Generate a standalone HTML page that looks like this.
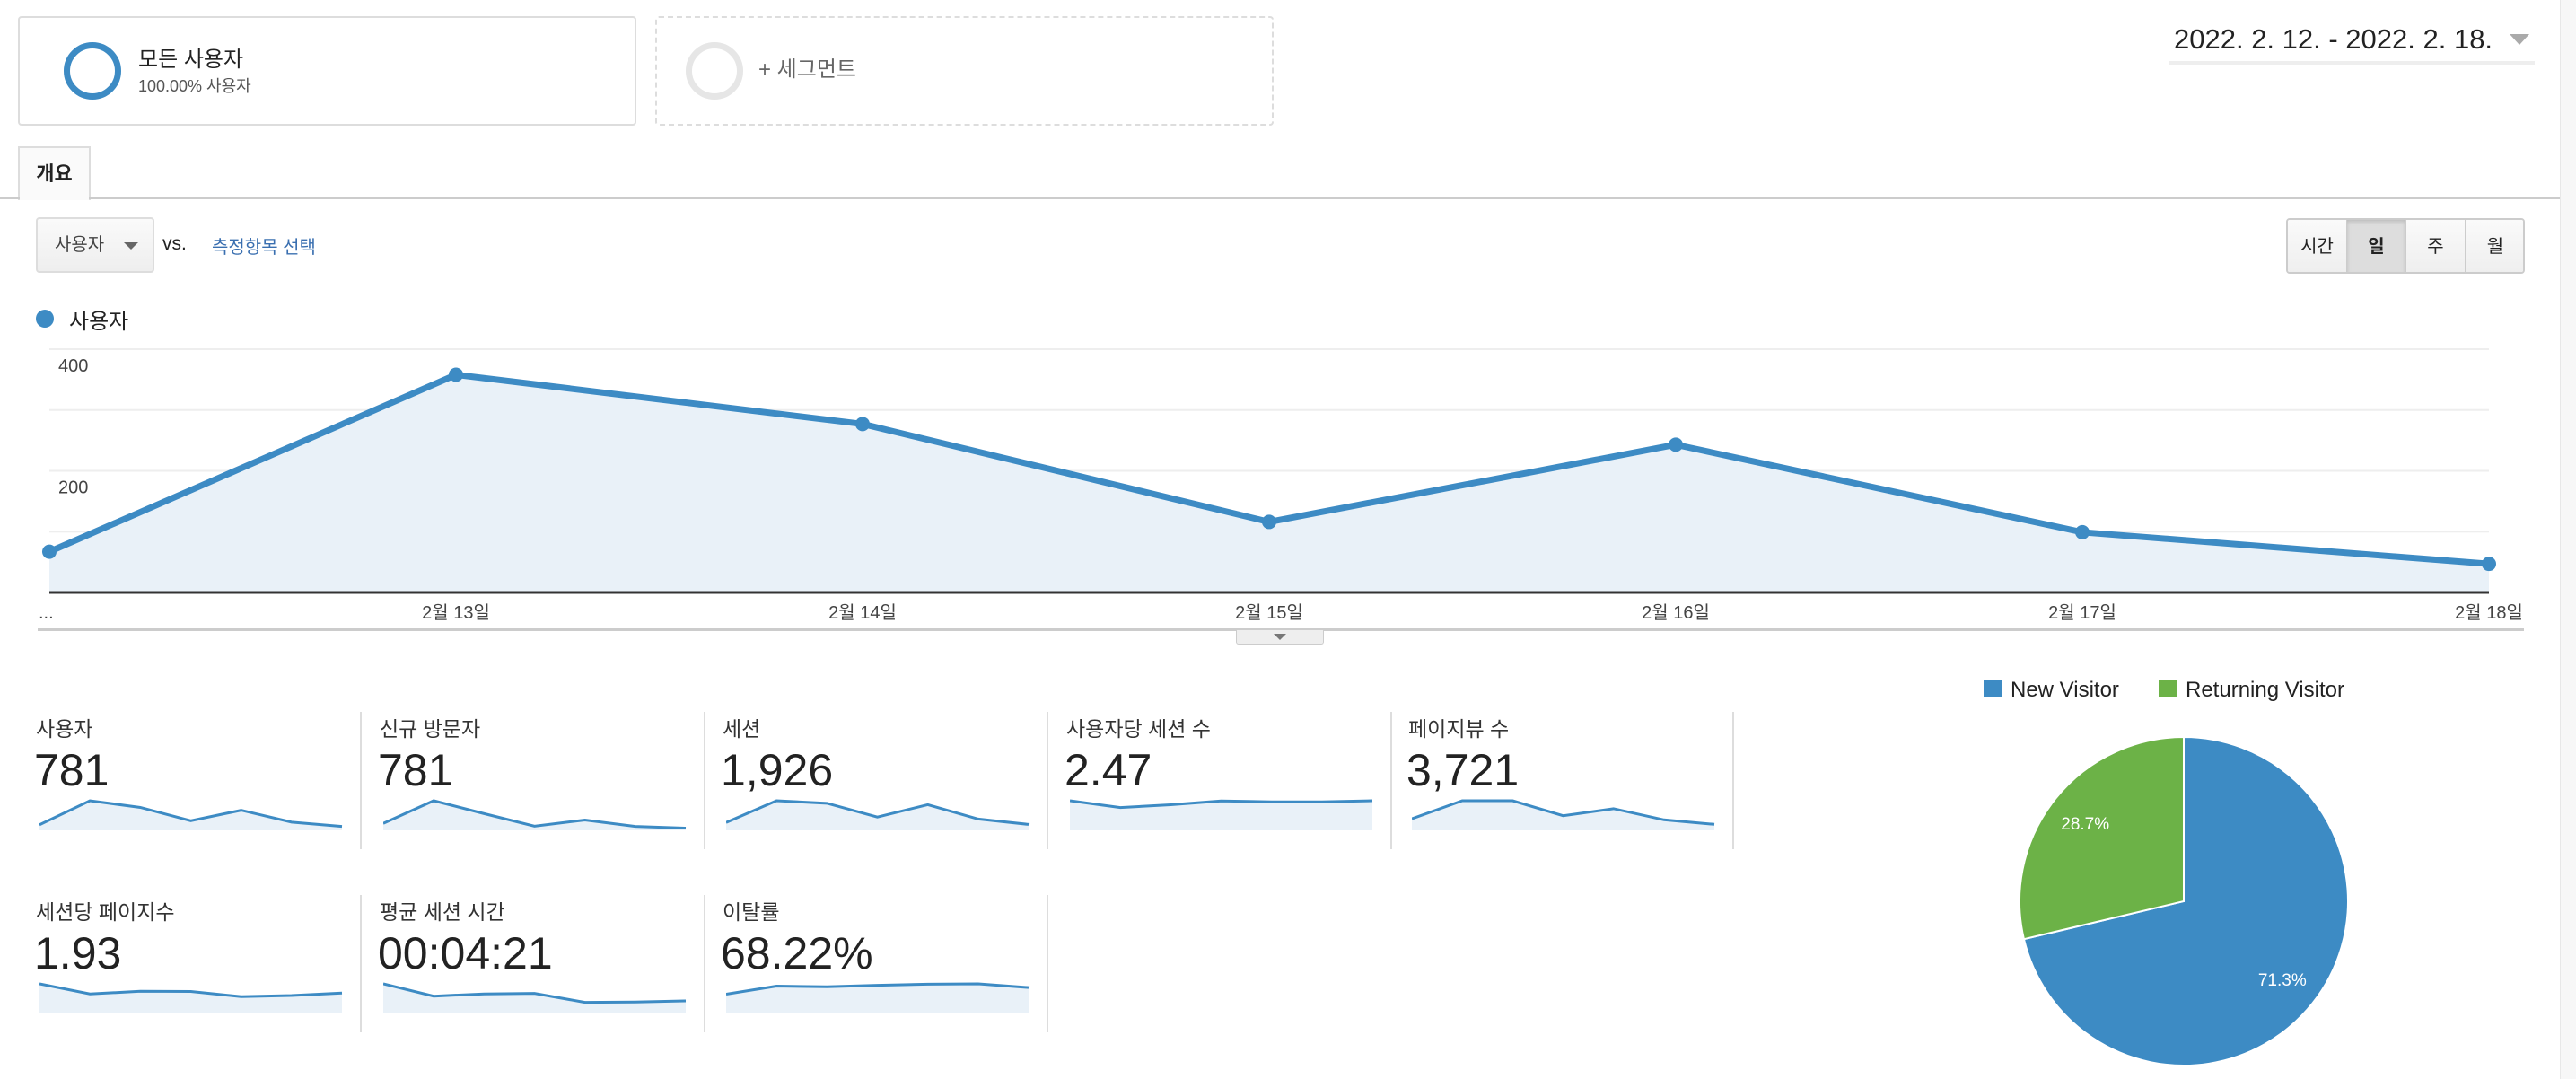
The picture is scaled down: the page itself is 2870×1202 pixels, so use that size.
<!DOCTYPE html>
<html><head><meta charset="utf-8">
<style>
*{box-sizing:border-box;margin:0;padding:0}
body{width:2870px;height:1202px;background:#fff;position:relative;overflow:hidden;font-family:"Liberation Sans","Noto Sans CJK KR",sans-serif;color:#222}
.a{position:absolute;white-space:nowrap}
.seg{position:absolute;border-radius:4px}
.btn{position:absolute;top:0;height:60px;width:66px;text-align:center;line-height:60px;font-size:20px;border-right:1px solid #ccc;background:linear-gradient(#fafafa,#eee)}
.lbl{position:absolute;font-size:23px;color:#333}
.val{position:absolute;font-size:50px;color:#222}
.div{position:absolute;width:2px;background:#ddd}
</style></head><body>
<div class="seg" style="left:20px;top:18px;width:689px;height:122px;border:2px solid #ddd"></div>
<div class="a" style="left:71px;top:47px;width:64px;height:64px;border:7px solid #3d8bc4;border-radius:50%"></div>
<div class="a" style="left:154px;top:46px;font-size:24px;color:#222">모든 사용자</div>
<div class="a" style="left:154px;top:82px;font-size:18px;color:#555">100.00% 사용자</div>
<div class="seg" style="left:730px;top:18px;width:689px;height:122px;border:2px dashed #ddd"></div>
<div class="a" style="left:764px;top:47px;width:64px;height:64px;border:7px solid #e6e6e6;border-radius:50%"></div>
<div class="a" style="left:845px;top:57px;font-size:24px;color:#666">+ 세그먼트</div>
<div class="a" style="left:2422px;top:26px;font-size:31px;color:#222">2022. 2. 12. - 2022. 2. 18.</div>
<div class="a" style="left:2796px;top:38px;width:0;height:0;border-left:11px solid transparent;border-right:11px solid transparent;border-top:12px solid #aaa"></div>
<div class="a" style="left:2417px;top:68px;width:407px;height:4px;background:#eee"></div>
<div class="a" style="left:2852px;top:0;width:18px;height:1202px;background:#f7f7f7;border-left:1px solid #e8e8e8"></div>
<div class="a" style="left:20px;top:163px;width:81px;height:60px;border:2px solid #ddd;border-bottom:none;background:#fafafa;font-size:22px;font-weight:bold;line-height:58px;text-align:center;color:#222">개요</div>
<div class="a" style="left:0;top:220px;width:2852px;height:2px;background:#ccc"></div>
<div class="a" style="left:22px;top:220px;width:77px;height:2px;background:#fafafa"></div>
<div class="a" style="left:40px;top:242px;width:132px;height:62px;border:2px solid #ddd;border-radius:4px;background:linear-gradient(#fafafa,#eee);font-size:20px;color:#444;line-height:58px;padding-left:19px">사용자<span style="position:absolute;left:96px;top:26px;border-left:8px solid transparent;border-right:8px solid transparent;border-top:8px solid #666"></span></div>
<div class="a" style="left:181px;top:260px;font-size:21px;color:#222">vs.</div>
<div class="a" style="left:236px;top:259px;font-size:20px;color:#3a6fb0">측정항목 선택</div>
<div class="a" style="left:2547px;top:243px;width:266px;height:62px;border:2px solid #ccc;border-radius:4px;overflow:hidden">
<div class="btn" style="left:0">시간</div>
<div class="btn" style="left:66px;background:#ddd;font-weight:bold;box-shadow:inset 0 2px 4px #bbb">일</div>
<div class="btn" style="left:132px">주</div>
<div class="btn" style="left:198px;border-right:none">월</div>
</div>
<div class="a" style="left:40px;top:345px;width:20px;height:20px;border-radius:50%;background:#3d8bc4"></div>
<div class="a" style="left:77px;top:338px;font-size:24px;color:#222">사용자</div>
<svg id="main" class="a" style="left:0;top:0" width="2870" height="740"></svg>
<div class="a" style="left:42px;top:700px;width:2770px;height:3px;background:#ccc"></div>
<div class="a" style="left:1377px;top:702px;width:98px;height:16px;background:#eee;border:1px solid #ccc;border-top:none;border-radius:0 0 3px 3px"><span style="position:absolute;left:41px;top:4px;border-left:7px solid transparent;border-right:7px solid transparent;border-top:7px solid #777"></span></div>
<div id="metrics"></div>
<svg id="pie" class="a" style="left:2150px;top:730px" width="600" height="472"></svg>
<script>
const NS='http://www.w3.org/2000/svg';
function mk(p,t,a){const e=document.createElementNS(NS,t);for(const k in a)e.setAttribute(k,a[k]);p.appendChild(e);return e;}
// main chart data
const dayLabels=['...','2월 13일','2월 14일','2월 15일','2월 16일','2월 17일','2월 18일'];
const userValues=[67,358,277,116,243,99,47];
const yTickValues=[400,200];
const yGridValues=[400,300,200,100];
const X0=55,X1=2773,Y0=660,YTOP=389,YMAX=400;
const xs=i=>X0+(X1-X0)*i/(userValues.length-1);
const ys=v=>Y0-(Y0-YTOP)*v/YMAX;
const svg=document.getElementById('main');
yGridValues.forEach(v=>{const g=mk(svg,'line',{x1:X0,x2:X1,y1:ys(v),y2:ys(v),stroke:'#eee','stroke-width':2});

});
yTickValues.forEach(v=>{const t=mk(svg,'text',{x:X0+10,y:ys(v)+25,'font-size':20,fill:'#444'});t.textContent=v;

});
let pts=userValues.map((v,i)=>xs(i)+','+ys(v)).join(' ');
const area=mk(svg,'polygon',{points:X0+','+Y0+' '+pts+' '+X1+','+Y0,fill:'#e9f1f8'});


const ax=mk(svg,'line',{x1:X0,x2:X1,y1:Y0,y2:Y0,stroke:'#333','stroke-width':3});


const ln=mk(svg,'polyline',{points:pts,fill:'none',stroke:'#3d8bc4','stroke-width':7,'stroke-linejoin':'round'});


userValues.forEach((v,i)=>{const c=mk(svg,'circle',{cx:xs(i),cy:ys(v),r:8,fill:'#3d8bc4'});


const t=mk(svg,'text',{x:i==0?xs(i)-12:xs(i),y:689,'font-size':20,fill:'#444','text-anchor':i==0?'start':'middle'});t.textContent=dayLabels[i];

});
// metric sparklines
const metricNames=['사용자','신규 방문자','세션','사용자당 세션 수','페이지뷰 수','세션당 페이지수','평균 세션 시간','이탈률'];
const metricValues=['781','781','1,926','2.47','3,721','1.93','00:04:21','68.22%'];
const sparkUsers=[67,358,277,116,243,99,47];
const sparkNew=[60,255,144,36,89,34,19];
const sparkSessions=[140,525,480,235,455,200,105];
const sparkSessPerUser=[2.6,2.0,2.25,2.58,2.5,2.5,2.6];
const sparkPageviews=[270,690,690,340,505,245,140];
const sparkPagesPerSess=[2.2,1.45,1.65,1.63,1.25,1.33,1.52];
const sparkDuration=[330,193,218,224,124,128,140];
const sparkBounce=[52,74,72,76,79,80,70];
const sparks=[sparkUsers,sparkNew,sparkSessions,sparkSessPerUser,sparkPageviews,sparkPagesPerSess,sparkDuration,sparkBounce];
const M=document.getElementById('metrics');
const colX=[40,423,805,1188,1569];
sparks.forEach((d,k)=>{
 const row=k<5?0:1,col=k<5?k:k-5,x=colX[col];
 const top=row?997:793;
 const l=document.createElement('div');l.className='lbl';l.style.left=x+'px';l.style.top=(top+0)+'px';l.textContent=metricNames[k];
 
 
 M.appendChild(l);
 const v=document.createElement('div');v.className='val';v.style.left=(x-2)+'px';v.style.top=(top+36)+'px';v.textContent=metricValues[k];
 
 
 M.appendChild(v);
 const s=document.createElementNS(NS,'svg');s.setAttribute('width',340);s.setAttribute('height',40);
 s.style.position='absolute';s.style.left=(x+4)+'px';s.style.top=(top+94)+'px';
 
 
 M.appendChild(s);
 const mx=Math.max(...d),H=36;
 const sx=i=>337*i/(d.length-1),sy=v=>H-(H-3)*v/mx+2;
 const p=d.map((v,i)=>sx(i)+','+sy(v)).join(' ');
 mk(s,'polygon',{points:'0,'+(H+2)+' '+p+' 337,'+(H+2),fill:'#e9f1f8'});
 mk(s,'polyline',{points:p,fill:'none',stroke:'#3d8bc4','stroke-width':3});
 const dv=document.createElement('div');dv.className='div';dv.style.left=(colX[col]+361)+'px';dv.style.top=top+'px';dv.style.height='153px';
 
 
 M.appendChild(dv);
});
// pie
const pieLabels=['New Visitor','Returning Visitor'];
const pieValues=[71.3,28.7];
const pieColors=['#3d8bc4','#6cb247'];
const P=document.getElementById('pie');
const cx=283,cy=274,R=183;
[[60,pieLabels[0],pieColors[0]],[255,pieLabels[1],pieColors[1]]].forEach(([lx,t,c])=>{
 const r=mk(P,'rect',{x:lx,y:27,width:20,height:20,fill:c});
 
 
 const tx=mk(P,'text',{x:lx+30,y:46,'font-size':24,fill:'#222'});tx.textContent=t;
 
 
});
const total=pieValues.reduce((a,b)=>a+b,0);
pieValues.forEach((v,i)=>{
 const frac=v/total;
 const dir=i==0?1:-1;
 const e=dir*frac*2*Math.PI;
 const p1=[cx,cy-R],p2=[cx+R*Math.sin(e),cy-R*Math.cos(e)];
 const large=frac>0.5?1:0,sweep=dir>0?1:0;
 const path=mk(P,'path',{d:`M${cx},${cy}L${p1[0]},${p1[1]}A${R},${R} 0 ${large} ${sweep} ${p2[0]},${p2[1]}Z`,fill:pieColors[i],stroke:'#fff','stroke-width':2});
 
 
 const mid=e/2,lr=140;
 const t=mk(P,'text',{x:cx+lr*Math.sin(mid),y:cy-lr*Math.cos(mid)+7,'font-size':19,fill:'#fff','text-anchor':'middle'});
 t.textContent=v.toFixed(1)+'%';
 
 
});
</script>
</body></html>
